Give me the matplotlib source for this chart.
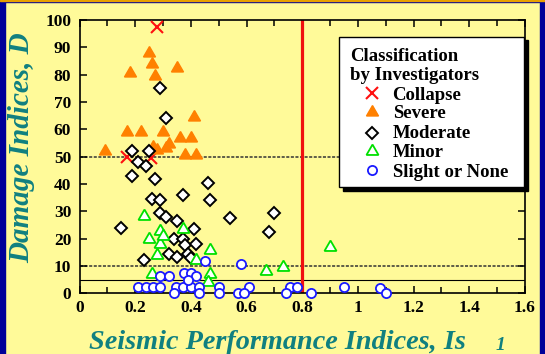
import numpy as np
import matplotlib.pyplot as plt
from matplotlib.patches import Rectangle
from matplotlib.ticker import FormatStrFormatter

plt.rcParams['font.family'] = ['Liberation Serif', 'DejaVu Serif']
plt.rcParams['font.weight'] = 'bold'

# damage class data: Is index vs damage index D
collapse_x = [0.28, 0.17, 0.255]
collapse_y = [97.5, 50.0, 49.5]

severe_x = [0.25, 0.26, 0.18, 0.35, 0.27, 0.17, 0.22, 0.30, 0.36, 0.40, 0.41,
            0.09, 0.32, 0.31, 0.28, 0.265, 0.38, 0.42]
severe_y = [88.0, 84.0, 80.5, 82.5, 79.5, 59.0, 59.0, 59.0, 57.0, 57.0, 64.5,
            52.0, 54.5, 53.0, 52.5, 53.5, 50.5, 50.5]

moderate_x = [0.29, 0.31, 0.19, 0.25, 0.21, 0.24, 0.19, 0.27, 0.46, 0.37, 0.47,
              0.26, 0.29, 0.29, 0.31, 0.35, 0.41, 0.15, 0.54, 0.70, 0.68, 0.34,
              0.37, 0.38, 0.42, 0.32, 0.35, 0.39, 0.40, 0.23]
moderate_y = [75.0, 64.0, 52.0, 52.0, 48.2, 46.5, 43.0, 42.0, 40.5, 36.0, 34.0,
              34.5, 34.0, 29.5, 28.0, 26.5, 23.7, 23.8, 27.5, 29.4, 22.4, 20.0,
              19.8, 17.7, 18.0, 14.4, 13.4, 14.5, 13.0, 12.0]

minor_x = [0.23, 0.29, 0.25, 0.29, 0.30, 0.37, 0.28, 0.47, 0.42, 0.26, 0.47,
           0.46, 0.67, 0.73, 0.90]
minor_y = [28.2, 22.7, 20.0, 18.0, 21.0, 23.5, 14.0, 15.7, 12.2, 7.2, 7.2,
           4.0, 8.2, 9.6, 16.8]

slight_x = [0.21, 0.24, 0.265, 0.29, 0.345, 0.37, 0.40, 0.43, 0.50, 0.61, 0.755,
            0.78, 0.95, 1.08,
            0.34, 0.43, 0.50, 0.57, 0.59, 0.74, 0.83, 1.10,
            0.29, 0.32, 0.375, 0.40, 0.42, 0.39,
            0.45, 0.58]
slight_y = [2.4, 2.4, 2.4, 2.4, 2.4, 2.4, 2.4, 2.4, 2.4, 2.2, 2.2,
            2.4, 2.3, 2.0,
            0.0, 0.0, 0.0, 0.0, 0.0, 0.0, 0.0, 0.0,
            6.5, 6.5, 7.3, 7.3, 6.5, 5.0,
            11.7, 10.7]

is_limit = 0.8
ref_lines = [50, 10]

yellow = '#fffa99'
navy = '#000099'
teal = '#108080'

fig = plt.figure(figsize=(5.45, 3.54), dpi=100, facecolor=yellow)
ax = fig.add_axes([0.146, 0.1715, 0.817, 0.772], facecolor=yellow)

# slide frame
fig.patches.append(Rectangle((0, 0), 5 / 545, 1, transform=fig.transFigure,
                             color=navy, zorder=0))
fig.patches.append(Rectangle((540 / 545, 0), 5 / 545, 1, transform=fig.transFigure,
                             color=navy, zorder=0))
fig.patches.append(Rectangle((0, 1 - 2 / 354), 1, 2 / 354, transform=fig.transFigure,
                             color=navy, zorder=0))
fig.patches.append(Rectangle((0, 1 - 1 / 354), 1, 1 / 354, transform=fig.transFigure,
                             color='#e8a000', zorder=0))

for yl in ref_lines:
    ax.axhline(yl, color='#333333', lw=1.1, ls=(0, (2, 1)), zorder=1)
ax.axhline(5, color='black', lw=0.8, zorder=1)
ax.axvline(is_limit, color='#f01010', lw=2.3, zorder=2)

ax.plot(collapse_x, collapse_y, 'x', color='#ff1010', ms=8.5, mew=1.5,
        clip_on=False, zorder=3)
ax.plot(severe_x, severe_y, marker=(3, 0, 0), ls='none', color='#ff8000',
        mec='#ff8000', ms=10, clip_on=False, zorder=3)
ax.plot(moderate_x, moderate_y, 'D', ls='none', mfc='white', mec='black',
        ms=6.3, mew=1.4, clip_on=False, zorder=4)
ax.plot(minor_x, minor_y, marker=(3, 0, 0), ls='none', mfc='white', mec='#00e000',
        ms=10, mew=1.3, clip_on=False, zorder=4)
ax.plot(slight_x, slight_y, 'o', ls='none', mfc='white', mec='#1a1aff',
        ms=6.6, mew=1.3, clip_on=False, zorder=5)

ax.set_xlim(0, 1.6)
ax.set_ylim(0, 100)
ax.set_xticks(np.arange(0, 1.61, 0.2))
ax.set_xticks(np.arange(0, 1.61, 0.1), minor=True)
ax.set_yticks(np.arange(0, 101, 10))
ax.xaxis.set_major_formatter(FormatStrFormatter('%g'))
ax.tick_params(which='both', direction='in', top=True, right=True, width=1.1,
               labelsize=12.5)
ax.tick_params(which='major', length=5, pad=5)
ax.tick_params(which='minor', length=4)
ax.tick_params(axis='y', pad=6)
for s in ax.spines.values():
    s.set_linewidth(1.2)

# legend box with hard black shadow
ax.add_patch(Rectangle((0.592, 0.373), 0.4155, 0.552, transform=ax.transAxes,
                       color='black', clip_on=False, zorder=6))
ax.add_patch(Rectangle((0.583, 0.388), 0.415, 0.551, transform=ax.transAxes,
                       fc='white', ec='black', lw=1, clip_on=False, zorder=7))
fs = 13.5
ax.text(0.608, 0.850, 'Classification', transform=ax.transAxes, fontsize=fs,
        va='baseline', zorder=8)
ax.text(0.608, 0.780, 'by Investigators', transform=ax.transAxes, fontsize=fs,
        va='baseline', zorder=8)
entries = [
    ('Collapse', dict(marker='x', color='#ff1010', ms=8.5, mew=1.5)),
    ('Severe', dict(marker=(3, 0, 0), color='#ff8000', ms=10)),
    ('Moderate', dict(marker='D', mfc='white', mec='black', ms=6.3, mew=1.4)),
    ('Minor', dict(marker=(3, 0, 0), mfc='white', mec='#00e000', ms=10, mew=1.3)),
    ('Slight or None', dict(marker='o', mfc='white', mec='#1a1aff', ms=6.6, mew=1.3)),
]
text_y = [0.707, 0.640, 0.569, 0.500, 0.427]
mark_y = [0.732, 0.664, 0.588, 0.522, 0.451]
for (label, style), ty, my in zip(entries, text_y, mark_y):
    ax.plot([0.656], [my], ls='none', transform=ax.transAxes, clip_on=False,
            zorder=8, **style)
    ax.text(0.703, ty, label, transform=ax.transAxes, fontsize=fs,
            va='baseline', zorder=8)

fig.text(277 / 545, 1 - 349 / 354, 'Seismic Performance Indices, Is', color=teal,
         fontsize=20.3, style='italic', ha='center', va='baseline')
fig.text(500 / 545, 1 - 350 / 354, '1', color=teal, fontsize=14, style='italic',
         ha='center', va='baseline')
fig.text(22 / 545, 1 - 148 / 354, 'Damage Indices, D', color=teal, fontsize=21,
         style='italic', rotation=90, ha='center', va='center')

fig.savefig('out.png', dpi=100, facecolor=yellow)
